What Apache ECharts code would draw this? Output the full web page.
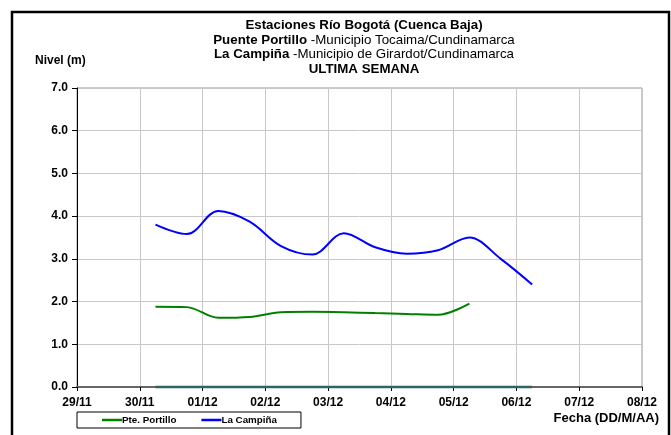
<!DOCTYPE html>
<html lang="es">
<head>
	<meta charset="UTF-8">
	<title>Nivel Rio Bogota</title>
	<script src="https://cdn.jsdelivr.net/npm/echarts@6/dist/echarts.min.js"></script>
	<style>
		body { margin: 0; background: #fff; }
	</style>
</head>
<body>
	<div id="chart" style="width: 671px;height: 435px;"></div>

	<script type="text/javascript">
	// dias desde 29/11 00:00, cada 12 horas
	var horas = [1.25, 1.75, 2.25, 2.75, 3.25, 3.75, 4.25, 4.75, 5.25, 5.75, 6.25, 6.75, 7.25];
	var portillo = [1.88, 1.87, 1.62, 1.64, 1.75, 1.76, 1.75, 1.73, 1.71, 1.69, 1.95];
	var campina = [3.8, 3.58, 4.12, 3.87, 3.3, 3.1, 3.6, 3.27, 3.12, 3.2, 3.5, 3.0, 2.4];
	var ceros = [0, 0, 0, 0, 0, 0, 0, 0, 0, 0, 0, 0, 0];
	var fechas = ['29/11', '30/11', '01/12', '02/12', '03/12', '04/12', '05/12', '06/12', '07/12', '08/12'];

	function pares(vals) {
		var out = [];
		for (var i = 0; i < vals.length; i++) {
			out.push([horas[i], vals[i]]);
		}
		return out;
	}

	var chart = echarts.init(document.getElementById('chart'));
	var arial = '"Liberation Sans", Arial, sans-serif';
	var narrow = '"Liberation Sans Narrow", "Liberation Sans", Arial, sans-serif';

	var option = {
		animation: false,
		title: {
			text: '{b|Estaciones Río Bogotá (Cuenca Baja)}\n{b|Puente Portillo}{n| -Municipio Tocaima/Cundinamarca}\n{b|La Campiña}{n| -Municipio de Girardot/Cundinamarca}\n{b|ULTIMA SEMANA}',
			left: 359,
			top: 13.5,
			textAlign: 'center',
			textStyle: {
				fontFamily: arial,
				lineHeight: 14.5,
				rich: {
					b: { fontWeight: 'bold', fontSize: 13.3, color: '#000', lineHeight: 14.5, fontFamily: arial },
					n: { fontWeight: 'normal', fontSize: 13.3, color: '#000', lineHeight: 14.5, fontFamily: arial }
				}
			}
		},
		graphic: [
			{ type: 'rect', shape: { x: 12, y: 12, width: 657, height: 440 }, style: { fill: 'none', stroke: '#000', lineWidth: 2.5 }, silent: true },
			{ type: 'text', left: 35, top: 55, style: { text: 'Nivel (m)', font: 'bold 12px ' + arial, fill: '#000' } },
			{ type: 'text', right: 12, top: 412, style: { text: 'Fecha (DD/M/AA)', font: 'bold 13px ' + narrow, fill: '#000' } }
		],
		legend: {
			left: 77,
			top: 412,
			data: ['Pte. Portillo', 'La Campiña'],
			icon: 'rect',
			itemWidth: 20,
			itemHeight: 2.5,
			itemGap: 25,
			padding: [3, 24, 3, 25],
			borderColor: '#000',
			borderWidth: 1,
			textStyle: { fontSize: 9.8, fontWeight: 'bold', fontFamily: arial, color: '#000', padding: [0, 0, 0, -5] }
		},
		grid: {
			left: 77,
			right: 29,
			top: 88,
			bottom: 48,
			show: true,
			borderColor: '#999',
			borderWidth: 1
		},
		xAxis: {
			type: 'value',
			min: 0,
			max: 9,
			interval: 1,
			axisLine: { lineStyle: { color: '#666', width: 2 } },
			axisTick: { show: true, length: 4, lineStyle: { color: '#000' } },
			axisLabel: {
				margin: 10,
				fontSize: 12,
				fontWeight: 'bold',
				fontFamily: narrow,
				color: '#000',
				formatter: function (v) { return fechas[Math.round(v)]; }
			},
			splitLine: { show: true, lineStyle: { color: '#c8c8c8', width: 1 } }
		},
		yAxis: {
			type: 'value',
			min: 0,
			max: 7,
			interval: 1,
			axisLine: { show: true, lineStyle: { color: '#000', width: 1 } },
			axisTick: { show: true, length: 5, lineStyle: { color: '#000' } },
			axisLabel: {
				margin: 9,
				fontSize: 12,
				fontWeight: 'bold',
				fontFamily: arial,
				color: '#000',
				formatter: function (v) { return v.toFixed(1); }
			},
			splitLine: { show: true, lineStyle: { color: '#c8c8c8', width: 1 } }
		},
		series: [
			{
				name: 'ceros',
				type: 'line',
				data: pares(ceros),
				showSymbol: false,
				clip: false,
				lineStyle: { color: '#2f6464', width: 2.5 },
				z: 5
			},
			{
				name: 'Pte. Portillo',
				type: 'line',
				data: pares(portillo),
				smooth: 0.35,
				showSymbol: false,
				itemStyle: { color: '#008000' },
				lineStyle: { color: '#008000', width: 2 }
			},
			{
				name: 'La Campiña',
				type: 'line',
				data: pares(campina),
				smooth: 0.35,
				showSymbol: false,
				itemStyle: { color: '#0000ff' },
				lineStyle: { color: '#0000ff', width: 2 }
			}
		]
	};
	chart.setOption(option);
	</script>
</body>
</html>
